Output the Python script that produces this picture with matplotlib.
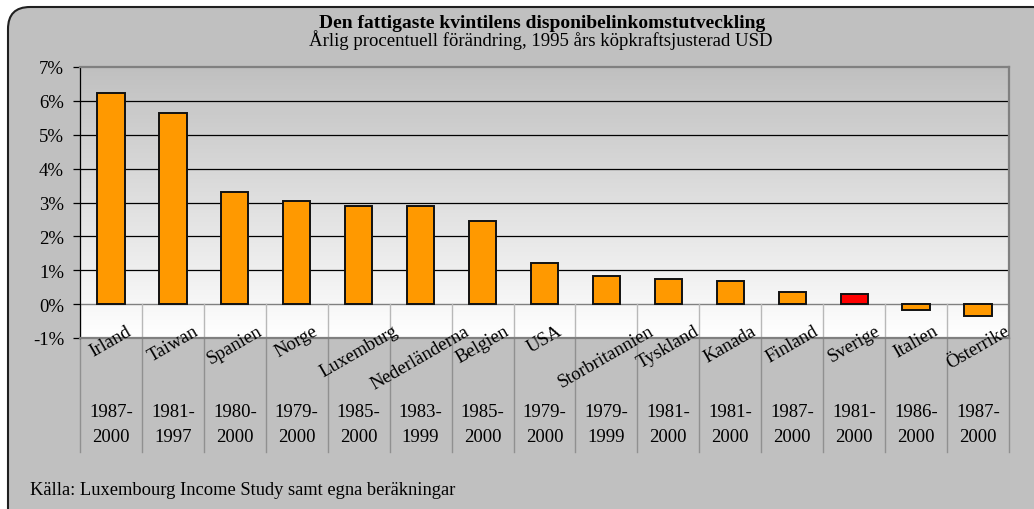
import numpy as np
import matplotlib
matplotlib.use("Agg")
import matplotlib.pyplot as plt
from matplotlib.patches import FancyBboxPatch
from matplotlib.colors import LinearSegmentedColormap

plt.rcParams['font.family'] = ['Liberation Serif', 'DejaVu Serif']

# Data
countries = ["Irland", "Taiwan", "Spanien", "Norge", "Luxemburg", "Nederländerna",
             "Belgien", "USA", "Storbritannien", "Tyskland", "Kanada", "Finland",
             "Sverige", "Italien", "Österrike"]
periods = ["1987-2000", "1981-1997", "1980-2000", "1979-2000", "1985-2000", "1983-1999",
           "1985-2000", "1979-2000", "1979-1999", "1981-2000", "1981-2000", "1987-2000",
           "1981-2000", "1986-2000", "1987-2000"]
growth = [6.24, 5.63, 3.32, 3.03, 2.90, 2.90, 2.44, 1.21, 0.83, 0.74, 0.69, 0.37,
          0.31, -0.17, -0.35]
highlight = "Sverige"

W, H = 1034, 510
fig = plt.figure(figsize=(W / 100, H / 100), dpi=100, facecolor="white")

# rounded grey frame (pixel coords), runs off the right and bottom edges
frame = FancyBboxPatch((8, -30), 1046, H - 8 + 30,
                       boxstyle="round,pad=0,rounding_size=22",
                       facecolor="#c0c0c0", edgecolor="#202020", linewidth=1.5,
                       transform=None, zorder=-5)
fig.patches.append(frame)

left, right, top, bottom = 80, 1009, 68, 339
ax = fig.add_axes([left / W, 1 - bottom / H, (right - left) / W, (bottom - top) / H])
ax.set_facecolor("none")

n = len(countries)
x = np.arange(n)
ymin, ymax = -1, 7

# gradient background of plot area
cmap = LinearSegmentedColormap.from_list("bg", ["#c0c0c0", "#ffffff"])
grad = np.linspace(0, 1, 256).reshape(-1, 1)
ax.imshow(grad, cmap=cmap, aspect="auto", extent=[-0.5, n - 0.5, ymin, ymax],
          origin="upper", zorder=0)

for v in range(1, 7):
    ax.axhline(v, color="black", lw=0.9, zorder=1)
ax.axhline(0, color="#808080", lw=1.0, zorder=1)

colors = ["#ff0000" if c == highlight else "#ff9900" for c in countries]
ax.bar(x, growth, width=0.44, color=colors, edgecolor="#111111", linewidth=1.4, zorder=3)

ax.set_xlim(-0.5, n - 0.5)
ax.set_ylim(ymin, ymax)

# category table lines
px = (bottom - top) / (ymax - ymin)
y_table = -(453 - 305) / px
for b in np.arange(n + 1) - 0.5:
    ax.plot([b, b], [0, -1], color="#b8b8b8", lw=1.0, zorder=1, clip_on=False)
    ax.plot([b, b], [-1, y_table], color="#909090", lw=1.0, zorder=1, clip_on=False)

y_name = -(323 - 305) / px
y_p1 = -(412 - 305) / px
y_p2 = -(437 - 305) / px
for i, (c, p) in enumerate(zip(countries, periods)):
    ax.text(i, y_name, c, rotation=30, ha="center", va="top", fontsize=13.5,
            clip_on=False, zorder=4)
    a, b2 = p.split("-")
    ax.text(i, y_p1, a + "-", ha="center", va="center", fontsize=13.5, clip_on=False)
    ax.text(i, y_p2, b2, ha="center", va="center", fontsize=13.5, clip_on=False)

ax.set_xticks([])
ax.set_yticks(range(ymin, ymax + 1))
ax.set_yticklabels([f"{v}%" for v in range(ymin, ymax + 1)], fontsize=13.5)
ax.tick_params(axis="y", direction="out", length=5, width=0.9, color="black", pad=6.5)

ax.spines["left"].set_color("black")
ax.spines["left"].set_linewidth(0.9)
for s in ("top", "right", "bottom"):
    ax.spines[s].set_color("#808080")
    ax.spines[s].set_linewidth(1.6)

fig.text(542 / W, 1 - 28 / H, "Den fattigaste kvintilens disponibelinkomstutveckling",
         ha="center", va="baseline", fontsize=14, fontweight="bold")
fig.text(541 / W, 1 - 46.5 / H, "Årlig procentuell förändring, 1995 års köpkraftsjusterad USD",
         ha="center", va="baseline", fontsize=13.5)
fig.text(30 / W, 1 - 495 / H, "Källa: Luxembourg Income Study samt egna beräkningar",
         ha="left", va="baseline", fontsize=13.3)

fig.savefig("out.png", dpi=100, facecolor="white")
